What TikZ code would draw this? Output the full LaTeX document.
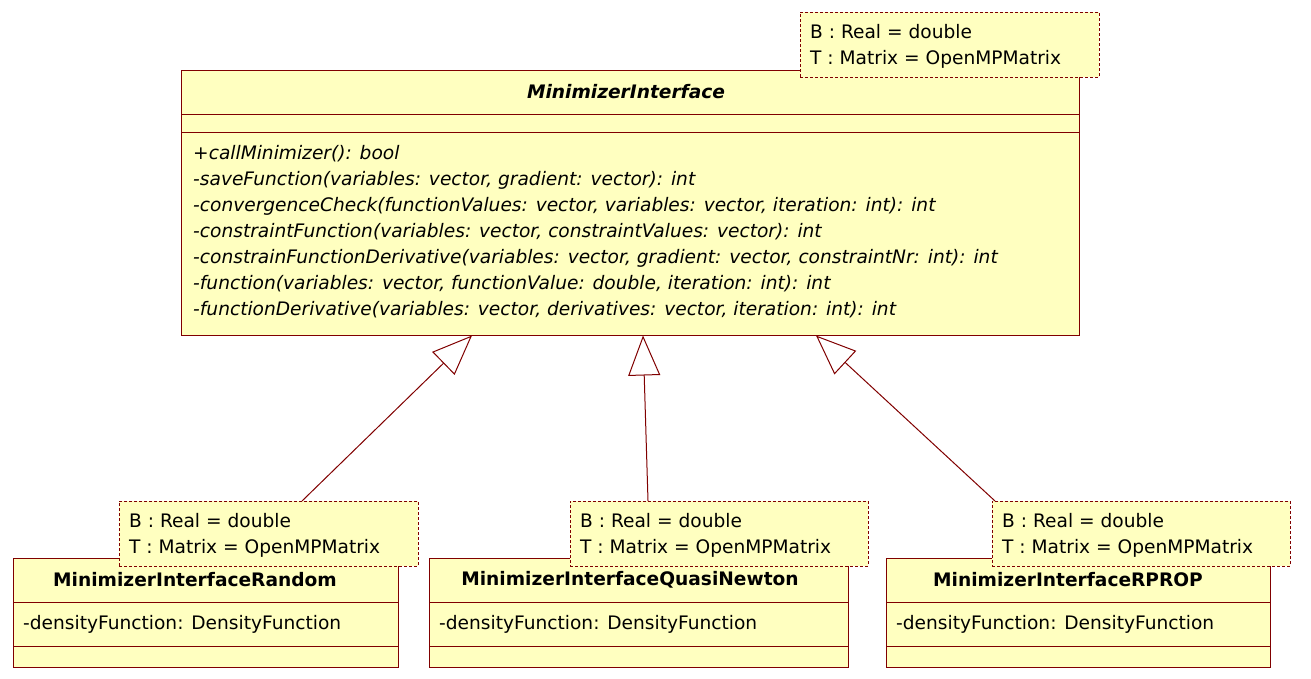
\documentclass[tikz,border=0pt]{standalone}
\usepackage{fontspec}
\setmainfont{DejaVu Sans}
\usetikzlibrary{arrows.meta}
\definecolor{umlborder}{RGB}{128,0,0}
\definecolor{umlfill}{RGB}{255,255,192}
\begin{document}
\begin{tikzpicture}[x=1pt,y=-1pt,
  classbox/.style={draw=umlborder, fill=umlfill, line width=1pt, inner sep=0pt, outer sep=0pt, anchor=north west},
  tmplbox/.style={draw=umlborder, fill=umlfill, line width=0.9pt, dash pattern=on 3pt off 2pt, inner sep=0pt, outer sep=0pt, anchor=north west},
  sepline/.style={draw=umlborder, line width=1pt},
  txt/.style={font=\fontsize{18.6}{26}\selectfont, inner sep=0pt, align=left},
  gen/.style={draw=umlborder, line width=1pt, -{Triangle[fill=white, length=40pt, width=32pt, line width=1pt]}}
]
\useasboundingbox (0,0) rectangle (1311,678);

% ---------- main class ----------
\node[classbox, minimum width=898pt, minimum height=265pt] (main) at (181,70) {};
\draw[sepline] (181,114) -- (1079,114);
\draw[sepline] (181,132) -- (1079,132);
\node[txt, font=\fontsize{18.6}{26}\selectfont\bfseries\itshape] (mainname) at (626,92) {MinimizerInterface};
\node[txt, font=\fontsize{18.6}{26}\selectfont\itshape, anchor=west] (mainops) at (193,232) {%
+callMinimizer(): bool\\
-saveFunction(variables: vector, gradient: vector): int\\
-convergenceCheck(functionValues: vector, variables: vector, iteration: int): int\\
-constraintFunction(variables: vector, constraintValues: vector): int\\
-constrainFunctionDerivative(variables: vector, gradient: vector, constraintNr: int): int\\
-function(variables: vector, functionValue: double, iteration: int): int\\
-functionDerivative(variables: vector, derivatives: vector, iteration: int): int};
\node[tmplbox, minimum width=299pt, minimum height=65pt] (mainT) at (800,12) {};
\node[txt, anchor=west] (mainTt) at (810,46) {B : Real = double\\T : Matrix = OpenMPMatrix};

% ---------- subclasses ----------
\node[classbox, minimum width=385pt, minimum height=109pt] (rand) at (13,558) {};
\draw[sepline] (13,602) -- (398,602);
\draw[sepline] (13,646) -- (398,646);
\node[txt, font=\fontsize{18.6}{26}\selectfont\bfseries] (randname) at (195,580) {MinimizerInterfaceRandom};
\node[txt, anchor=west] (randattr) at (23,624) {-densityFunction: DensityFunction};

\node[classbox, minimum width=419pt, minimum height=109pt] (qn) at (429,558) {};
\draw[sepline] (429,602) -- (848,602);
\draw[sepline] (429,646) -- (848,646);
\node[txt, font=\fontsize{18.6}{26}\selectfont\bfseries] (qnname) at (630,580) {MinimizerInterfaceQuasiNewton};
\node[txt, anchor=west] (qnattr) at (439,624) {-densityFunction: DensityFunction};

\node[classbox, minimum width=384pt, minimum height=109pt] (rp) at (886,558) {};
\draw[sepline] (886,602) -- (1270,602);
\draw[sepline] (886,646) -- (1270,646);
\node[txt, font=\fontsize{18.6}{26}\selectfont\bfseries] (rpname) at (1068,580) {MinimizerInterfaceRPROP};
\node[txt, anchor=west] (rpattr) at (896,624) {-densityFunction: DensityFunction};

% ---------- template boxes ----------
\node[tmplbox, minimum width=299pt, minimum height=65pt] (randT) at (119,501) {};
\node[txt, anchor=west] (randTt) at (129,535) {B : Real = double\\T : Matrix = OpenMPMatrix};
\node[tmplbox, minimum width=298pt, minimum height=65pt] (qnT) at (570,501) {};
\node[txt, anchor=west] (qnTt) at (580,535) {B : Real = double\\T : Matrix = OpenMPMatrix};
\node[tmplbox, minimum width=298pt, minimum height=65pt] (rpT) at (992,501) {};
\node[txt, anchor=west] (rpTt) at (1002,535) {B : Real = double\\T : Matrix = OpenMPMatrix};

% ---------- generalizations ----------
\coordinate (sR) at (302,501);
\coordinate (sQ) at (648,501);
\coordinate (sP) at (995,501);
\coordinate (tipR) at (472,335.5);
\coordinate (tipQ) at (643,335.5);
\coordinate (tipP) at (816,335.5);
\draw[gen] (sR) -- (tipR);
\draw[gen] (sQ) -- (tipQ);
\draw[gen] (sP) -- (tipP);
\end{tikzpicture}
\end{document}
